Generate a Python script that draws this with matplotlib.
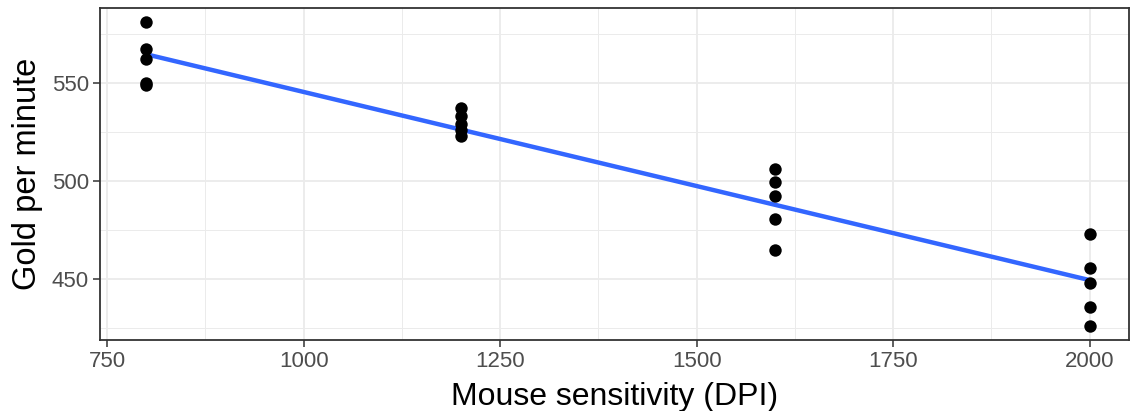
import matplotlib
matplotlib.use("Agg")
import matplotlib.pyplot as plt
import numpy as np

plt.rcParams['font.family'] = ['Liberation Sans', 'DejaVu Sans']

# mouse DPI groups and gold-per-minute readings
dpi_levels = [800, 1200, 1600, 2000]
gpm_800 = [581, 567, 562, 550, 549]
gpm_1200 = [537, 533, 529, 526, 523]
gpm_1600 = [506, 499.5, 492.5, 480.5, 465]
gpm_2000 = [473, 455.5, 448, 436, 426]

x_ticks = [750, 1000, 1250, 1500, 1750, 2000]
y_ticks = [450, 500, 550]

groups = [gpm_800, gpm_1200, gpm_1600, gpm_2000]
xs = np.concatenate([[d] * len(g) for d, g in zip(dpi_levels, groups)])
ys = np.concatenate(groups)

fig = plt.figure(figsize=(11.31, 4.11), dpi=100)
ax = fig.add_axes([100 / 1131, 71 / 411, 1029 / 1131, 332 / 411])

# linear fit like geom_smooth(method = "lm", se = FALSE)
slope, intercept = np.polyfit(xs, ys, 1)
line_x = np.array([min(dpi_levels), max(dpi_levels)])
ax.plot(line_x, intercept + slope * line_x, color='#3366FF', lw=3.2, zorder=2,
        solid_capstyle='butt')
ax.scatter(xs, ys, s=80, color='black', zorder=3, linewidths=0)

ax.set_xlim(741, 2050)
ax.set_ylim(419, 588)
ax.set_xticks(x_ticks)
ax.set_yticks(y_ticks)
ax.set_xticks([875, 1125, 1375, 1625, 1875], minor=True)
ax.set_yticks([425, 475, 525, 575], minor=True)
ax.grid(which='major', color='#EBEBEB', lw=1.3, zorder=0)
ax.grid(which='minor', color='#EBEBEB', lw=0.7, zorder=0)
ax.set_axisbelow(True)
ax.tick_params(which='major', length=5, width=1.1, color='#333333',
               labelsize=16, labelcolor='#4D4D4D', pad=3)
ax.tick_params(which='minor', length=0)
for sp in ax.spines.values():
    sp.set_color('#333333')
    sp.set_linewidth(1.3)

ax.set_xlabel('Mouse sensitivity (DPI)', fontsize=23, labelpad=7)
ax.set_ylabel('Gold per minute', fontsize=23.5, labelpad=6)

fig.savefig('out.png', dpi=100)
